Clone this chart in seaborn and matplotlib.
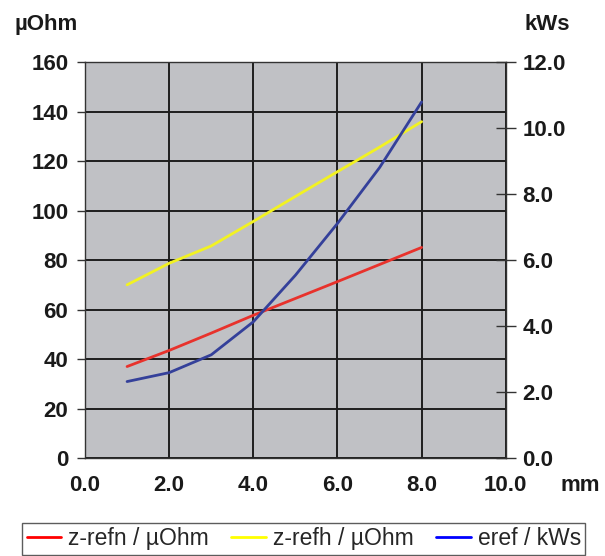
import numpy as np
import pandas as pd
import matplotlib
matplotlib.use("Agg")
import matplotlib.pyplot as plt
import seaborn as sns
from matplotlib.lines import Line2D

# values
mm = [1, 2, 3, 4, 5, 6, 7, 8]
z_refn = [37.0, 43.5, 50.5, 57.7, 64.5, 71.3, 78.2, 85.1]
z_refh = [70.0, 78.7, 85.7, 95.6, 105.7, 115.7, 125.6, 135.9]
eref = [2.32, 2.59, 3.13, 4.13, 5.54, 7.11, 8.80, 10.79]

left_ticks = [0, 20, 40, 60, 80, 100, 120, 140, 160]
right_ticks = [0, 2, 4, 6, 8, 10, 12]
x_ticks = [0, 2, 4, 6, 8, 10]

sns.set_style("white")
plt.rcParams['font.family'] = ['Liberation Sans', 'DejaVu Sans']

df = pd.DataFrame({'mm': mm, 'z_refn': z_refn, 'z_refh': z_refh, 'eref': eref})

fig = plt.figure(figsize=(6.05, 5.56), dpi=100)
ax = fig.add_axes([0.1405, 0.176, 0.6955, 0.7125])
ax.set_facecolor('#c0c1c5')

sns.lineplot(data=df, x='mm', y='z_refn', color='#e8322c', lw=2, ax=ax)
sns.lineplot(data=df, x='mm', y='z_refh', color='#f2f222', lw=2, ax=ax)

ax.set_xlim(0, 10)
ax.set_ylim(0, 160)
ax.set_xticks(x_ticks)
ax.set_xticklabels([f"{v:.1f}" for v in x_ticks])
ax.set_yticks(left_ticks)
ax.set_yticklabels([str(v) for v in left_ticks])
ax.grid(True, color='#1e1e1e', lw=1.4)
ax.set_xlabel('')
ax.set_ylabel('')
for s in ax.spines.values():
    s.set_color('#333333')
    s.set_linewidth(1.0)
ax.tick_params(axis='both', direction='out', length=6, width=1, color='#333333',
               labelsize=16, pad=6)
for t in ax.get_xticklabels() + ax.get_yticklabels():
    t.set_fontweight('bold')
    t.set_color('#1a1a1a')

ax2 = ax.twinx()
sns.lineplot(data=df, x='mm', y='eref', color='#34409a', lw=2, ax=ax2)
ax2.set_ylim(0, 12)
ax2.set_yticks(right_ticks)
ax2.set_yticklabels([f"{v:.1f}" for v in right_ticks])
ax2.set_ylabel('')
ax2.grid(False)
for s in ax2.spines.values():
    s.set_visible(False)
ax2.tick_params(axis='y', direction='inout', length=14, width=1, color='#333333',
                labelsize=16, pad=5)
for t in ax2.get_yticklabels():
    t.set_fontweight('bold')
    t.set_color('#1a1a1a')

fig.text(15 / 605, 1 - 30 / 556, 'µOhm', fontsize=16, fontweight='bold', color='#1a1a1a')
fig.text(570 / 605, 1 - 30 / 556, 'kWs', fontsize=16, fontweight='bold', color='#1a1a1a', ha='right')
fig.text(560 / 605, 1 - 491 / 556, 'mm', fontsize=16, fontweight='bold', color='#1a1a1a')

handles = [Line2D([], [], color='#ff0000', lw=2),
           Line2D([], [], color='#ffff00', lw=2),
           Line2D([], [], color='#0000ff', lw=2)]
labels = ['z-refn / µOhm', 'z-refh / µOhm', 'eref / kWs']
leg = fig.legend(handles, labels, loc='lower center', bbox_to_anchor=(0.502, -0.006), ncol=3,
                 fontsize=16.5, frameon=True, fancybox=False, handlelength=1.5,
                 handletextpad=0.3, columnspacing=1.0, borderpad=0.2, borderaxespad=0.2)
leg.get_frame().set_edgecolor('#333333')
leg.get_frame().set_linewidth(1.0)

fig.savefig('out.png', dpi=100)
